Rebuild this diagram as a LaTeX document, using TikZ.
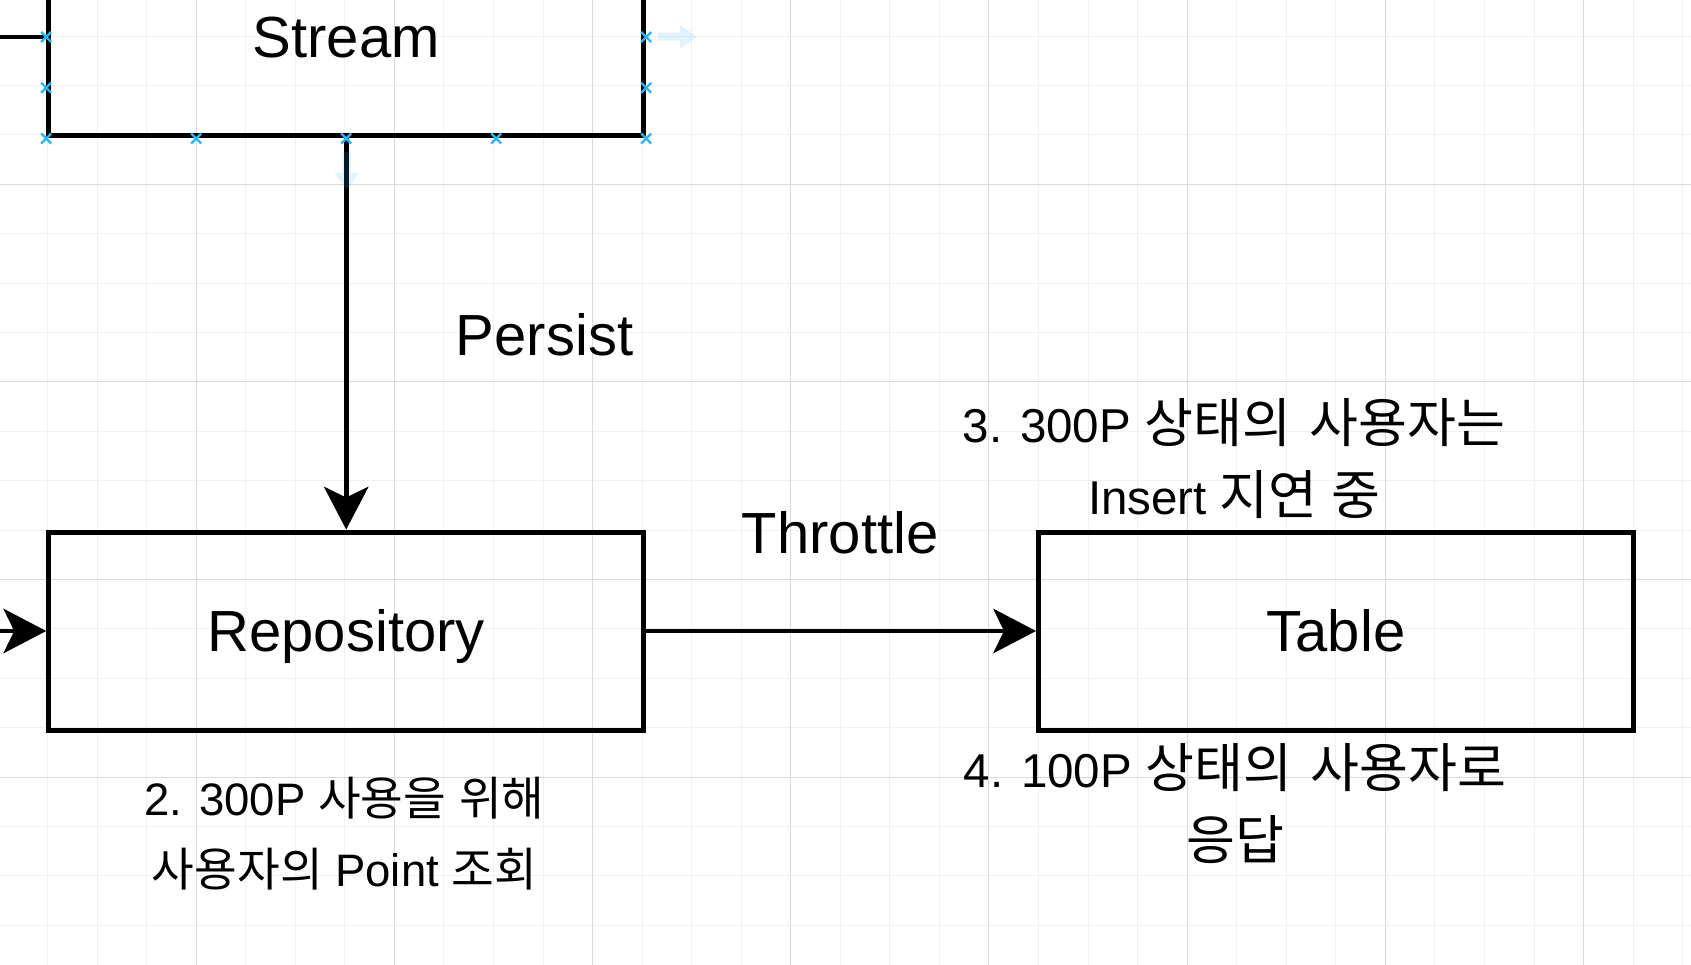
\documentclass[tikz,border=0pt]{standalone}
\usepackage{fontspec}
\setmainfont{Liberation Sans}
\newfontfamily\kr[Scale=1.02]{Noto Sans CJK KR}
\newfontfamily\krb[Scale=1.12]{Noto Sans CJK KR}
\usetikzlibrary{arrows.meta,calc}
\definecolor{gridmajor}{RGB}{218,218,218}
\definecolor{gridminor}{RGB}{241,241,241}
\definecolor{cpblue}{RGB}{41,182,242}
\begin{document}
\begin{tikzpicture}[x=1pt,y=-1pt,
  box/.style={draw=black,line width=5pt,rectangle,minimum width=595pt,minimum height=198pt,
    inner sep=0pt,font=\fontsize{58}{70}\selectfont,text height=41.5pt,text depth=0pt},
  conn/.style={line width=4.8pt,-{Stealth[length=43pt,width=45pt,inset=11pt,line width=0pt]}},
  plainconn/.style={line width=4.8pt},
  biglabel/.style={font=\fontsize{58}{70}\selectfont,anchor=base,inner sep=0pt},
  note/.style={font=\fontsize{45.5}{71.7}\selectfont,align=center,anchor=base,inner sep=0pt},
  bignote/.style={font=\fontsize{47.5}{72}\selectfont,align=center,anchor=base,inner sep=0pt},
  cpmark/.style={draw=cpblue,line width=2.4pt},
  hover/.style={fill=cpblue,fill opacity=0.15,draw=none},
]
\useasboundingbox (0,0) rectangle (1691,965);
\fill[white] (0,0) rectangle (1691,965);
% grid
\foreach \k in {0,...,33} {\draw[gridminor,line width=1pt] ({47.5+49.55*\k},0) -- ({47.5+49.55*\k},965);}
\foreach \k in {0,...,18} {\draw[gridminor,line width=1pt] (0,{36.1+49.4*\k}) -- (1691,{36.1+49.4*\k});}
\foreach \k in {0,...,7} {\draw[gridmajor,line width=1pt] ({196.15+198.2*\k},0) -- ({196.15+198.2*\k},965);}
\foreach \k in {0,...,3} {\draw[gridmajor,line width=1pt] (0,{184.3+197.6*\k}) -- (1691,{184.3+197.6*\k});}

% boxes
\node[box] (Stream) at (346.2,37) {Stream};
\node[box] (Repo) at (346.2,631) {Repository};
\node[box] (Table) at (1336,631) {Table};

% connectors
\coordinate (inS) at (-10,37);
\coordinate (inR) at (-10,631);
\draw[plainconn] (inS) -- (Stream.west);
\draw[conn] (inR) -- (Repo.west);
\draw[conn] (Stream.south) -- (Repo.north);
\draw[conn] (Repo.east) -- (Table.west);

% labels
\node[biglabel] (persist) at (544.5,355.7) {Persist};
\node[biglabel] (throttle) at (840.3,553.3) {Throttle};
\node[note] (n2) at (344.5,886.7) {2. 300P {\kr 사용을} {\kr 위해}\\{\kr 사용자의} Point {\kr 조회}};
\node[bignote] (n3) at (1234,514.3) {3. 300P {\krb 상태의}\hspace{5pt} {\krb 사용자는}\\Insert {\krb 지연} {\krb 중}};
\node[bignote] (n4) at (1235,859) {4. 100P {\krb 상태의}\hspace{5pt} {\krb 사용자로}\\{\krb 응답}};

% connection point markers on Stream
\foreach \p in {(Stream.west),(Stream.east),(Stream.south west),(Stream.south east),(Stream.south),
  ($(Stream.west)!0.5!(Stream.south west)$),($(Stream.east)!0.5!(Stream.south east)$),
  ($(Stream.south west)!0.25!(Stream.south east)$),($(Stream.south west)!0.75!(Stream.south east)$)} {
  \draw[cpmark] \p ++(-5,-5) -- ++(10,10) \p ++(-5,5) -- ++(10,-10);
}
% hover arrows
\fill[hover] (658,32.7) -- (680,32.7) -- (680,24.7) -- (697,36.7) -- (680,48.7) -- (680,40.7) -- (658,40.7) -- cycle;
\fill[hover] (342.6,152) -- (350.6,152) -- (350.6,173) -- (358.6,173) -- (346.6,190) -- (334.6,173) -- (342.6,173) -- cycle;
\end{tikzpicture}
\end{document}
